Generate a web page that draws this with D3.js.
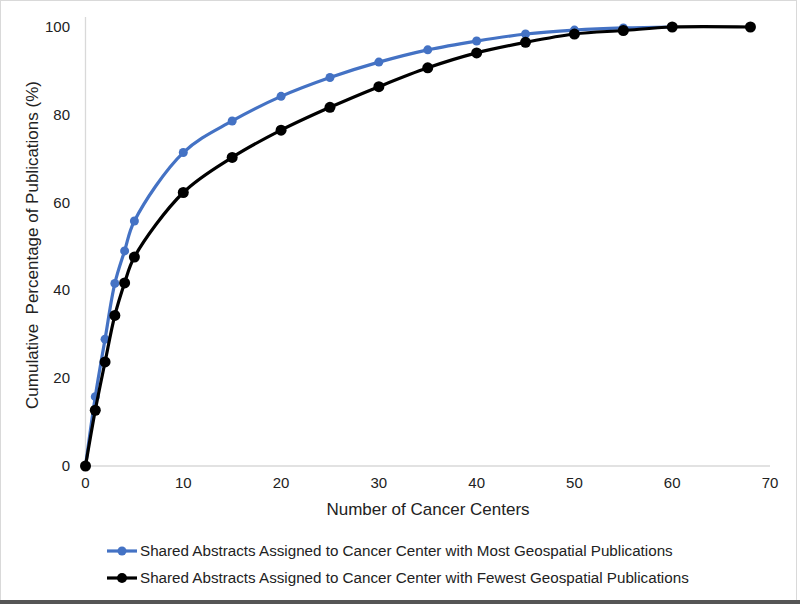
<!DOCTYPE html>
<html><head><meta charset="utf-8">
<script src="https://cdn.jsdelivr.net/npm/d3@7"></script>
<style>body{margin:0;background:#fff;}svg{display:block;font-family:"Liberation Sans",Arial,sans-serif;}</style>
</head><body>
<svg id="c" width="800" height="604"></svg>
<script>
const centers = [0,1,2,3,4,5,10,15,20,25,30,35,40,45,50,55,60];
const mostValues = [0,15.8,28.9,41.6,49.0,55.8,71.4,78.6,84.2,88.5,92.0,94.8,96.8,98.4,99.3,99.8,100];
const centersFewest = [0,1,2,3,4,5,10,15,20,25,30,35,40,45,50,55,60,68];
const fewestValues = [0,12.7,23.7,34.3,41.7,47.6,62.3,70.3,76.5,81.7,86.4,90.7,94.1,96.5,98.4,99.2,100,100];
const xTicks = [0,10,20,30,40,50,60,70];
const yTicks = [0,20,40,60,80,100];
const seriesNames = ["Shared Abstracts Assigned to Cancer Center with Most Geospatial Publications","Shared Abstracts Assigned to Cancer Center with Fewest Geospatial Publications"];
const seriesColors = ["#4472C4","#000000"];

const svg = d3.select("#c");
// frame
svg.append("rect").attr("x",0.5).attr("y",0.5).attr("width",796).attr("height",602).attr("fill","#fff").attr("stroke","#d9d9d9");
svg.append("rect").attr("x",0).attr("y",600).attr("width",800).attr("height",4).attr("fill","#555");

const x = d3.scaleLinear().domain([0,70]).range([85.5,770]);
const y = d3.scaleLinear().domain([0,100]).range([466,27]);

// axes lines
svg.append("line").attr("x1",x(0)).attr("x2",x(0)).attr("y1",17).attr("y2",466).attr("stroke","#d9d9d9").attr("stroke-width",1.3);
svg.append("line").attr("x1",x(0)).attr("x2",x(70)).attr("y1",466).attr("y2",466).attr("stroke","#d9d9d9").attr("stroke-width",1.3);

svg.append("g").selectAll("text").data(yTicks).join("text")
  .attr("x",70).attr("y",d=>y(d)+5).attr("text-anchor","end").attr("font-size",15).attr("fill","#222").text(d=>d);
svg.append("g").selectAll("text").data(xTicks).join("text")
  .attr("x",d=>x(d)).attr("y",488).attr("text-anchor","middle").attr("font-size",15).attr("fill","#222").text(d=>d);

svg.append("text").attr("x",428).attr("y",515).attr("text-anchor","middle").attr("font-size",17).attr("fill","#222").text("Number of Cancer Centers");
svg.append("text").attr("transform","translate(38,245) rotate(-90)").attr("text-anchor","middle").attr("font-size",17).attr("fill","#222")
  .attr("xml:space","preserve").style("white-space","pre").text("Cumulative  Percentage of Publications (%)");

const line = d3.line().x(d=>x(d[0])).y(d=>y(d[1])).curve(d3.curveCatmullRom.alpha(0.5));
const series = [
  {pts: centers.map((c,i)=>[c,mostValues[i]]), color: seriesColors[0], r:4.5},
  {pts: centersFewest.map((c,i)=>[c,fewestValues[i]]), color: seriesColors[1], r:5.5}
];
series.forEach(s=>{
  svg.append("path").attr("d",line(s.pts)).attr("fill","none").attr("stroke",s.color).attr("stroke-width",3.2);
  svg.append("g").selectAll("circle").data(s.pts).join("circle")
    .attr("cx",d=>x(d[0])).attr("cy",d=>y(d[1])).attr("r",s.r).attr("fill",s.color);
});

// legend
const lg = svg.append("g");
seriesNames.forEach((n,i)=>{
  const yy = 551 + i*27;
  lg.append("line").attr("x1",107).attr("x2",137).attr("y1",yy).attr("y2",yy).attr("stroke",seriesColors[i]).attr("stroke-width",3.2);
  lg.append("circle").attr("cx",122).attr("cy",yy).attr("r",i===0?4.5:5).attr("fill",seriesColors[i]);
  lg.append("text").attr("x",140).attr("y",yy+5).attr("font-size",15.2).attr("fill","#222").text(n);
});
</script>
</body></html>
